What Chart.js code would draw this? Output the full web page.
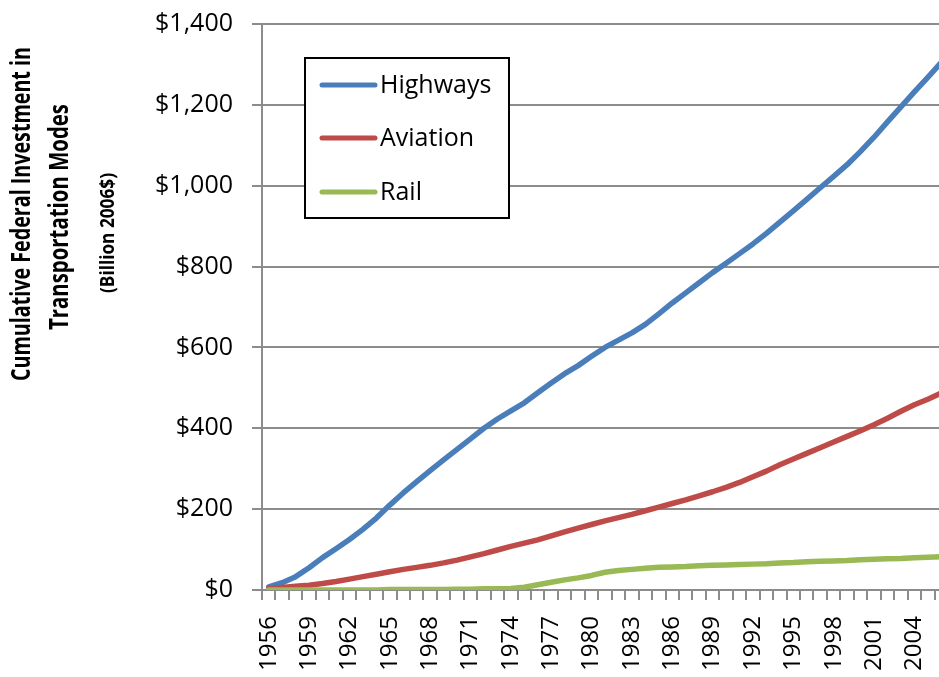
<!DOCTYPE html>
<html>
<head>
<meta charset="utf-8">
<script src="https://cdn.jsdelivr.net/npm/chart.js@4.4.0/dist/chart.umd.min.js"></script>
<style>
    html, body { margin: 0; padding: 0; background: #fff; overflow: hidden; }
    #wrap { width: 939px; height: 677px; overflow: hidden; position: relative; }
</style>
</head>
<body>
<div id="wrap"><canvas id="investChart" width="948" height="677"></canvas></div>
<script>
// === DATA (billion 2006$, cumulative) ===
const years = [
    "1956", "1957", "1958", "1959", "1960", "1961", "1962", "1963", "1964", "1965",
    "1966", "1967", "1968", "1969", "1970", "1971", "1972", "1973", "1974", "1975",
    "1976", "1977", "1978", "1979", "1980", "1981", "1982", "1983", "1984", "1985",
    "1986", "1987", "1988", "1989", "1990", "1991", "1992", "1993", "1994", "1995",
    "1996", "1997", "1998", "1999", "2000", "2001", "2002", "2003", "2004", "2005",
    "2006",
];
const highways = [
    8, 18, 33, 55, 80, 102, 125, 150, 178, 210,
    240, 268, 295, 322, 348, 374, 400, 423, 443, 463,
    488, 512, 535, 555, 578, 600, 618, 636, 657, 683,
    710, 735, 760, 785, 808, 832, 856, 882, 910, 938,
    966, 995, 1023, 1052, 1085, 1120, 1158, 1195, 1232, 1268,
    1305,
];
const aviation = [
    3, 6, 9, 12, 16, 21, 27, 33, 39, 45,
    51, 56, 61, 67, 74, 82, 90, 99, 108, 116,
    124, 134, 144, 153, 162, 171, 179, 187, 196, 205,
    214, 223, 233, 243, 254, 266, 280, 294, 310, 324,
    338, 352, 366, 380, 394, 409, 425, 442, 458, 472,
    487,
];
const rail = [
    0, 0, 0, 0, 0, 0, 0, 0, 0, 1,
    1, 1, 1, 1, 2, 2, 3, 3, 4, 7,
    13, 19, 25, 30, 36, 44, 48, 51, 54, 56,
    57, 58, 60, 61, 62, 63, 64, 65, 67, 68,
    70, 71, 72, 73, 75, 76, 77, 78, 80, 81,
    82,
];
const yTitleLines = ["Cumulative Federal Investment in", "Transportation Modes"];
const yTitleUnit = "(Billion 2006$)";

const GRID = "#8c8c8c";
const FONT = "'Open Sans', sans-serif";

// axis title drawn rotated at the left edge (squeezed a bit, like the narrow original font)
const titlePlugin = {
    id: "sideTitle",
    afterDraw(chart) {
        const ctx = chart.ctx;
        const rows = [
            { text: yTitleLines[0], x: 23, y: 214, w: 334, font: "bold 26px " + FONT },
            { text: yTitleLines[1], x: 61, y: 217, w: 226, font: "bold 26px " + FONT },
            { text: yTitleUnit, x: 108, y: 233, w: 120, font: "bold 20px " + FONT },
        ];
        ctx.save();
        ctx.fillStyle = "#000";
        ctx.textAlign = "center";
        ctx.textBaseline = "middle";
        rows.forEach((r) => {
            ctx.save();
            ctx.translate(r.x, r.y);
            ctx.rotate(-Math.PI / 2);
            ctx.font = r.font;
            ctx.fillText(r.text, 0, 0, r.w);
            ctx.restore();
        });
        ctx.restore();
    },
};

// boxed legend inside the plot
const boxLegend = {
    id: "boxLegend",
    afterDraw(chart) {
        const ctx = chart.ctx;
        ctx.save();
        ctx.fillStyle = "#fff";
        ctx.fillRect(305, 58, 204, 160);
        ctx.strokeStyle = "#000";
        ctx.lineWidth = 2;
        ctx.strokeRect(305, 58, 204, 160);
        const rowsY = [85, 138, 192];
        chart.data.datasets.forEach((ds, i) => {
            ctx.strokeStyle = ds.borderColor;
            ctx.lineWidth = 5;
            ctx.lineCap = "round";
            ctx.beginPath();
            ctx.moveTo(322, rowsY[i]);
            ctx.lineTo(375, rowsY[i]);
            ctx.stroke();
            ctx.fillStyle = "#000";
            ctx.font = "25px " + FONT;
            ctx.textBaseline = "middle";
            ctx.fillText(ds.label, 380, rowsY[i] + 1);
        });
        ctx.restore();
    },
};

const lineStyle = {
    borderWidth: 5.5,
    pointRadius: 0,
    tension: 0,
    fill: false,
    borderCapStyle: "round",
    borderJoinStyle: "round",
};

new Chart(document.getElementById("investChart"), {
    type: "line",
    data: {
        labels: years,
        datasets: [
            { ...lineStyle, label: "Highways", data: highways, borderColor: "#4a7ebb", order: 3 },
            { ...lineStyle, label: "Aviation", data: aviation, borderColor: "#be4b48", order: 2 },
            { ...lineStyle, label: "Rail", data: rail, borderColor: "#98b954", order: 1 },
        ],
    },
    options: {
        responsive: false,
        animation: false,
        layout: { padding: { top: 24, left: 0, right: 0, bottom: 0 } },
        plugins: { legend: { display: false }, tooltip: { enabled: false } },
        scales: {
            x: {
                offset: true,
                grid: {
                    offset: true,
                    drawOnChartArea: false,
                    drawTicks: true,
                    tickLength: 10,
                    color: GRID,
                    lineWidth: 2,
                },
                border: { display: true, color: GRID, width: 2 },
                ticks: {
                    autoSkip: false,
                    minRotation: 90,
                    maxRotation: 90,
                    padding: 16,
                    color: "#000",
                    font: { family: FONT, size: 24 },
                    callback: function (v, i) {
                        return i % 3 === 0 ? this.getLabelForValue(v) : "";
                    },
                },
                afterFit: (s) => {
                    s.height = 87;
                    s.paddingLeft = 0;
                    s.paddingRight = 0;
                },
            },
            y: {
                min: 0,
                max: 1400,
                grid: { color: GRID, lineWidth: 2, tickLength: 10 },
                border: { display: true, color: GRID, width: 2 },
                ticks: {
                    stepSize: 200,
                    padding: 19,
                    color: "#000",
                    font: { family: FONT, size: 25 },
                    callback: (v) => "$" + v.toLocaleString("en-US"),
                },
                afterFit: (s) => {
                    s.width = 262;
                    s.paddingTop = 0;
                    s.paddingBottom = 0;
                },
            },
        },
    },
    plugins: [titlePlugin, boxLegend],
});
</script>
</body>
</html>
